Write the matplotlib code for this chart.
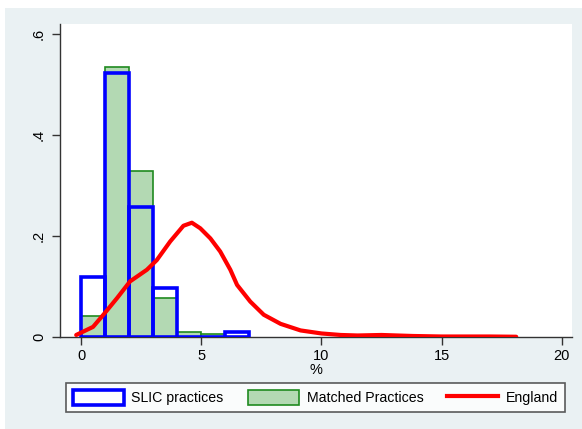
import numpy as np
import matplotlib.pyplot as plt
from matplotlib.patches import Rectangle, Patch
from matplotlib.lines import Line2D

plt.rcParams['font.family'] = ['Liberation Sans', 'DejaVu Sans']

# histogram bins (width 1, starting at 0)
bin_left = [0, 1, 2, 3, 4, 5, 6]
slic_density = [0.118, 0.523, 0.257, 0.097, 0.0, 0.0, 0.010]
matched_density = [0.042, 0.534, 0.329, 0.077, 0.009, 0.005, 0.0]

# England kernel density
england_x = [-0.2, 0.5, 0.93, 1.5, 2.04, 2.74, 3.15, 3.71, 4.26, 4.61, 4.96,
             5.38, 5.79, 6.21, 6.49, 7.04, 7.6, 8.3, 9.13, 10.0, 10.8, 11.5,
             12.5, 13.8, 15.0, 16.0, 17.0, 18.1]
england_y = [0.004, 0.020, 0.044, 0.077, 0.110, 0.133, 0.152, 0.189, 0.220,
             0.226, 0.215, 0.195, 0.169, 0.133, 0.103, 0.070, 0.044, 0.026,
             0.013, 0.007, 0.004, 0.003, 0.004, 0.002, 0.001, 0.001, 0.001,
             0.0005]

y_ticks = [0, 0.2, 0.4, 0.6]
y_labels = ["0", ".2", ".4", ".6"]
x_ticks = [0, 5, 10, 15, 20]

W, H = 582, 429
fig = plt.figure(figsize=(W / 100, H / 100), dpi=100)
fig.patch.set_facecolor("white")
bg = "#eaf1f3"
fig.patches.append(Rectangle((5 / W, 0), 1, (H - 8) / H, transform=fig.transFigure,
                             facecolor=bg, edgecolor="none", zorder=-10))

ax = fig.add_axes([60 / W, (H - 337) / H, (572 - 60) / W, (337 - 24) / H])
ax.set_facecolor("white")

green_fill = "#b3d9b3"
green_edge = "#1f8a1f"
blue = "#0000ff"

ax.bar(bin_left, matched_density, width=1, align="edge", color=green_fill,
       edgecolor=green_edge, linewidth=1.2, zorder=2)
ax.bar(bin_left, slic_density, width=1, align="edge", fill=False,
       edgecolor=blue, linewidth=2.6, zorder=3)
ax.plot(england_x, england_y, color="red", linewidth=3, zorder=4,
        solid_capstyle="round")

ax.set_xlim(-0.874, 20.42)
ax.set_ylim(0, 0.619)
ax.set_xticks(x_ticks)
ax.set_yticks(y_ticks)
ax.set_yticklabels(y_labels, rotation=90, va="center")
ax.tick_params(axis="both", direction="out", length=6, width=1, color="#333333",
               labelsize=10.5, labelcolor="black")
ax.tick_params(axis="x", pad=3)
ax.tick_params(axis="y", pad=4)
for s in ["top", "right"]:
    ax.spines[s].set_visible(False)
for s in ["left", "bottom"]:
    ax.spines[s].set_color("#333333")
    ax.spines[s].set_linewidth(1.0)
ax.set_xlabel("%", fontsize=10.5, labelpad=0)

handles = [
    Patch(facecolor="white", edgecolor=blue, linewidth=2.6, label="SLIC practices"),
    Patch(facecolor=green_fill, edgecolor=green_edge, linewidth=1.2, label="Matched Practices"),
    Line2D([], [], color="red", linewidth=3, label="England"),
]
leg = fig.legend(handles=handles, loc="center", ncol=3,
                 bbox_to_anchor=(315.5 / W, (H - 397.5) / H),
                 fontsize=10.2, frameon=True, fancybox=False, handlelength=3.6,
                 handleheight=1.3, columnspacing=1.7, handletextpad=0.55,
                 borderpad=0.45, borderaxespad=0)
leg.get_frame().set_edgecolor("#333333")
leg.get_frame().set_linewidth(1.2)

fig.savefig("out.png", dpi=100)
